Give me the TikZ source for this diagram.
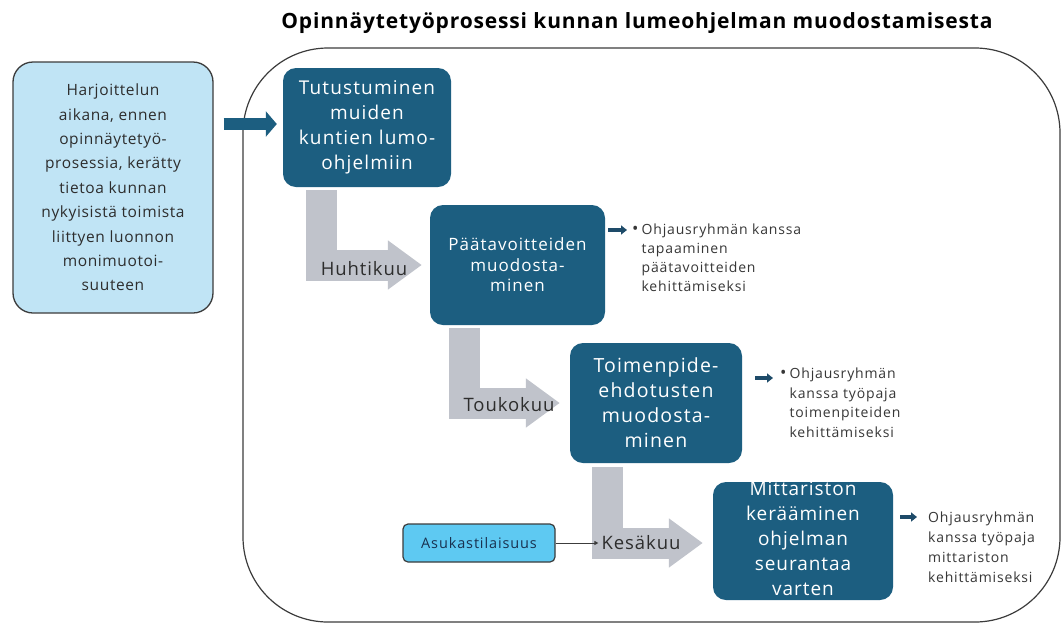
\documentclass[tikz,border=0pt]{standalone}
\usepackage{fontspec}
\setmainfont{Open Sans}
\usetikzlibrary{arrows.meta}
\definecolor{boxblue}{RGB}{28,94,128}
\definecolor{lightbox}{RGB}{192,228,245}
\definecolor{brightbox}{RGB}{94,201,242}
\definecolor{graybar}{RGB}{192,195,203}
\definecolor{framegray}{RGB}{60,60,60}
\definecolor{textgray}{RGB}{45,45,45}
\definecolor{notegray}{RGB}{55,55,55}
\definecolor{navytext}{RGB}{25,50,80}
\definecolor{arrowdark}{RGB}{30,75,105}
\newcommand{\fnt}[3]{\fontsize{#1}{#2}\selectfont\addfontfeatures{LetterSpace=#3}}
\begin{document}
\begin{tikzpicture}[x=1pt,y=-1pt,
  darkbox/.style={fill=boxblue, draw=none, rounded corners=13pt, text=white, align=center, inner sep=0pt},
  boxtext/.style={text=white, align=center, inner sep=0pt},
  leftbox/.style={fill=lightbox, draw=framegray, line width=1.3pt, rounded corners=20pt, align=center, inner sep=0pt, text=textgray},
  graybend/.style={draw=graybar, line width=31pt, line join=miter, -{Triangle[length=34pt,width=47pt]}},
  smallarrow/.style={draw=arrowdark, line width=3.2pt, -{Triangle[length=6pt,width=9pt]}},
  monthlabel/.style={text=textgray, inner sep=0pt, font=\fnt{18.5}{22}{5}},
  notetext/.style={text=notegray, inner sep=0pt, align=left}
]
\useasboundingbox[fill=white] (0,0) rectangle (1063,625);

% title
\node[inner sep=0pt, text=black, font=\bfseries\fnt{21}{24}{4}] (title) at (637,23) {Opinnäytetyöprosessi kunnan lumeohjelman muodostamisesta};

% frame
\draw[framegray, line width=1.2pt, rounded corners=85pt] (243,48) rectangle (1060,622);

% left box
\node[leftbox, minimum width=200pt, minimum height=251pt, font=\fnt{15.5}{24.4}{4}] (lb) at (113,187.5)
 {Harjoittelun\\aikana, ennen\\opinnäytetyö-\\prosessia, kerätty\\tietoa kunnan\\nykyisistä toimista\\liittyen luonnon\\monimuotoi-\\suuteen};

% dark boxes
\node[darkbox, minimum width=168pt, minimum height=119pt, font=\fnt{19}{25}{6}] (b1) at (367,127.5)
 {Tutustuminen\\muiden\\kuntien lumo-\\ohjelmiin};
\node[darkbox, minimum width=175pt, minimum height=120pt, font=\fnt{17}{20.5}{6}] (b2) at (517.5,265)
 {Päätavoitteiden\\muodosta-\\minen};
\node[darkbox, minimum width=172pt, minimum height=120pt, font=\fnt{19.5}{25}{6}] (b3) at (656,403)
 {Toimenpide-\\ehdotusten\\muodosta-\\minen};
\node[darkbox, minimum width=180pt, minimum height=118pt] (b4) at (803,541) {};
\node[boxtext, font=\fnt{19}{25}{5}] (b4t) at (803,539)
 {Mittariston\\kerääminen\\ohjelman\\seurantaa\\varten};

% big arrow from left box to first box
\coordinate (a1) at ([yshift=3.5pt]b1.west);
\draw[boxblue, line width=12pt, -{Triangle[length=11pt,width=25pt]}, shorten <=10pt, shorten >=6pt] (lb.east |- a1) -- (a1);

% gray bent arrows
\draw[graybend, shorten >=8pt] ([xshift=-45.5pt, yshift=-3pt]b1.south) |- (b2.west);
\draw[graybend, shorten >=10pt] ([xshift=-53.5pt, yshift=-3pt]b2.south) |- (b3.west);
\draw[graybend, shorten >=10pt] ([xshift=-49pt, yshift=-4pt]b3.south) |- ([yshift=-2pt]b4.west);

% month labels
\node[monthlabel] (huhti) at (364,269) {Huhtikuu};
\node[monthlabel] (touko) at (509,405) {Toukokuu};
\node[monthlabel] (kesa) at (641,543) {Kesäkuu};

% Asukastilaisuus
\node[fill=brightbox, draw=framegray, line width=1.2pt, rounded corners=5pt, minimum width=152pt, minimum height=38pt, inner sep=0pt, text=navytext, font=\fnt{14.5}{17}{6}] (asu) at (479,543) {Asukastilaisuus};
\draw[framegray, line width=0.9pt, -{Triangle[length=4pt,width=4pt]}] (asu.east) -- ([xshift=-3pt]kesa.west);

% notes
\node[notetext, anchor=west, font=\fnt{14}{19}{6}] (n1) at (632,259)
 {\begin{tabular}{@{}l@{\hspace{3pt}}l@{}}{\fontsize{17}{19}\selectfont •}&Ohjausryhmän kanssa\\ &tapaaminen\\ &päätavoitteiden\\ &kehittämiseksi\end{tabular}};
\coordinate (t1) at (627,230);
\draw[smallarrow, shorten <=3pt] (b2.east |- t1) -- (t1);

\node[notetext, anchor=west, font=\fnt{14}{19.5}{6}] (n2) at (780,404)
 {\begin{tabular}{@{}l@{\hspace{3pt}}l@{}}{\fontsize{17}{19}\selectfont •}&Ohjausryhmän\\ &kanssa työpaja\\ &toimenpiteiden\\ &kehittämiseksi\end{tabular}};
\coordinate (t2) at (773,378);
\draw[smallarrow, shorten <=13pt] (b3.east |- t2) -- (t2);

\node[notetext, anchor=west, font=\fnt{14}{20}{6}] (n3) at (928,547)
 {Ohjausryhmän\\kanssa työpaja\\mittariston\\kehittämiseksi};
\coordinate (t3) at (917,517);
\draw[smallarrow, shorten <=7pt] (b4.east |- t3) -- (t3);
\end{tikzpicture}
\end{document}
